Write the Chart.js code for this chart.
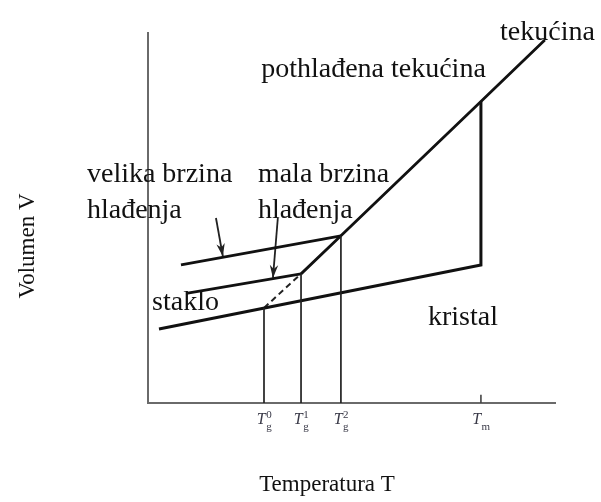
<!DOCTYPE html>
<html>
<head>
<meta charset="utf-8">
<script src="https://cdn.jsdelivr.net/npm/chart.js@4.4.1/dist/chart.umd.min.js"></script>
<style>
  html, body { margin: 0; padding: 0; background: #ffffff; }
  #wrap { width: 601px; height: 502px; }
</style>
</head>
<body>
<div id="wrap"><canvas id="c" width="601" height="502"></canvas></div>
<script>
// ---- data (arbitrary units) ----
const tempTicks = [28.5, 37.6, 47.4, 81.8];      // Tg0, Tg1, Tg2, Tm
const tickMain  = ['T', 'T', 'T', 'T'];
const tickSup   = ['0', '1', '2', ''];
const tickSub   = ['g', 'g', 'g', 'm'];

const liquidX  = [37.6, 47.4, 81.8, 97.5];
const liquidY  = [34.9, 45.2, 81.5, 98.1];
const crystalX = [2.7, 81.8, 81.8];
const crystalY = [20.0, 37.3, 81.5];
const fastGlassX = [8.1, 47.4];
const fastGlassY = [37.3, 45.2];
const slowGlassX = [9.4, 37.6];
const slowGlassY = [29.6, 34.9];
const dashedX = [28.5, 37.6];
const dashedY = [25.7, 34.9];
const dropY   = [25.7, 34.9, 45.2];               // heights of the vertical guides at Tg0..Tg2
const tmTickY = [0, 2.2];
const arrowFastX = [16.7, 18.4];
const arrowFastY = [50.0, 39.6];
const arrowSlowX = [31.9, 30.7];
const arrowSlowY = [50.0, 33.8];

const labelTexts = ['tekućina', 'pothlađena tekućina', 'velika brzina', 'hlađenja',
                    'mala brzina', 'hlađenja', 'staklo', 'kristal'];
const labelX = [86.5, 27.8, -15.0, -15.0, 27.0, 27.0, 1.0, 68.8];
const labelY = [98.1, 88.1, 59.7, 50.0, 59.7, 50.0, 25.1, 21.1];
const xTitle = 'Temperatura T';
const yTitle = 'Volumen V';

function pts(xs, ys) { return xs.map((x, i) => ({ x: x, y: ys[i] })); }

const datasets = [];
function addLine(data, width, color, dash) {
  datasets.push({
    data: data, showLine: true, borderColor: color, borderWidth: width,
    borderDash: dash || [], pointRadius: 0, fill: false, tension: 0,
    borderCapStyle: 'butt', borderJoinStyle: 'miter'
  });
}
// vertical guides
for (let i = 0; i < 3; i++) {
  addLine(pts([tempTicks[i], tempTicks[i]], [0, dropY[i]]), 1.7, '#222');
}
addLine(pts([tempTicks[3], tempTicks[3]], tmTickY), 1.6, '#444');
addLine(pts(liquidX, liquidY), 2.8, '#111');
addLine(pts(crystalX, crystalY), 3.0, '#111');
addLine(pts(fastGlassX, fastGlassY), 2.8, '#111');
addLine(pts(slowGlassX, slowGlassY), 2.8, '#111');
addLine(pts(dashedX, dashedY), 2.0, '#222', [6, 4]);
addLine(pts(arrowFastX, arrowFastY), 1.8, '#222');
addLine(pts(arrowSlowX, arrowSlowY), 1.8, '#222');

const FONT = '"Liberation Serif", "Times New Roman", serif';

const decor = {
  id: 'decor',
  afterDatasetsDraw(chart) {
    const ctx = chart.ctx;
    const xs = chart.scales.x, ys = chart.scales.y;
    ctx.save();
    // arrow heads
    const heads = [[arrowFastX, arrowFastY], [arrowSlowX, arrowSlowY]];
    ctx.fillStyle = '#222';
    heads.forEach(([ax, ay]) => {
      const x0 = xs.getPixelForValue(ax[0]), y0 = ys.getPixelForValue(ay[0]);
      const x1 = xs.getPixelForValue(ax[1]), y1 = ys.getPixelForValue(ay[1]);
      const a = Math.atan2(y1 - y0, x1 - x0);
      const L = 13, W = 4.2;
      ctx.beginPath();
      ctx.moveTo(x1, y1);
      ctx.lineTo(x1 - L * Math.cos(a) + W * Math.sin(a), y1 - L * Math.sin(a) - W * Math.cos(a));
      ctx.lineTo(x1 - (L - 4) * Math.cos(a), y1 - (L - 4) * Math.sin(a));
      ctx.lineTo(x1 - L * Math.cos(a) - W * Math.sin(a), y1 - L * Math.sin(a) + W * Math.cos(a));
      ctx.closePath();
      ctx.fill();
    });
    // annotation labels
    ctx.fillStyle = '#111';
    ctx.font = '28px ' + FONT;
    ctx.textAlign = 'left';
    ctx.textBaseline = 'alphabetic';
    labelTexts.forEach((t, i) => {
      ctx.fillText(t, xs.getPixelForValue(labelX[i]), ys.getPixelForValue(labelY[i]));
    });
    // tick labels with sub/superscripts
    ctx.fillStyle = '#3a3a48';
    const baseY = chart.chartArea.bottom + 21;
    tempTicks.forEach((v, i) => {
      const px = xs.getPixelForValue(v);
      ctx.font = 'italic 16px ' + FONT;
      const wT = ctx.measureText(tickMain[i]).width;
      ctx.font = '11px ' + FONT;
      const wS = Math.max(ctx.measureText(tickSup[i]).width, ctx.measureText(tickSub[i]).width);
      const left = px - (wT + wS) / 2;
      ctx.font = 'italic 16px ' + FONT;
      ctx.fillText(tickMain[i], left, baseY);
      ctx.font = '11px ' + FONT;
      if (tickSup[i]) ctx.fillText(tickSup[i], left + wT + 0.5, baseY - 6);
      ctx.fillText(tickSub[i], left + wT + 0.5, baseY + 6);
    });
    // axis titles
    ctx.fillStyle = '#111';
    ctx.font = '23px ' + FONT;
    ctx.textAlign = 'center';
    ctx.fillText(xTitle, 327, 491);
    ctx.save();
    ctx.translate(34, 246);
    ctx.rotate(-Math.PI / 2);
    ctx.fillText(yTitle, 0, 0);
    ctx.restore();
    ctx.restore();
  }
};

new Chart(document.getElementById('c'), {
  type: 'scatter',
  data: { datasets: datasets },
  options: {
    responsive: false,
    animation: false,
    devicePixelRatio: 1,
    layout: { padding: { left: 148, top: 33, right: 46, bottom: 99 } },
    plugins: { legend: { display: false }, tooltip: { enabled: false } },
    scales: {
      x: {
        type: 'linear', min: 0, max: 100,
        grid: { display: false, drawTicks: false },
        ticks: { display: false },
        border: { display: true, color: '#6a6a6a', width: 2 }
      },
      y: {
        type: 'linear', min: 0, max: 100,
        grid: { display: false, drawTicks: false },
        ticks: { display: false },
        border: { display: true, color: '#6a6a6a', width: 2 }
      }
    }
  },
  plugins: [decor]
});
</script>
</body>
</html>
